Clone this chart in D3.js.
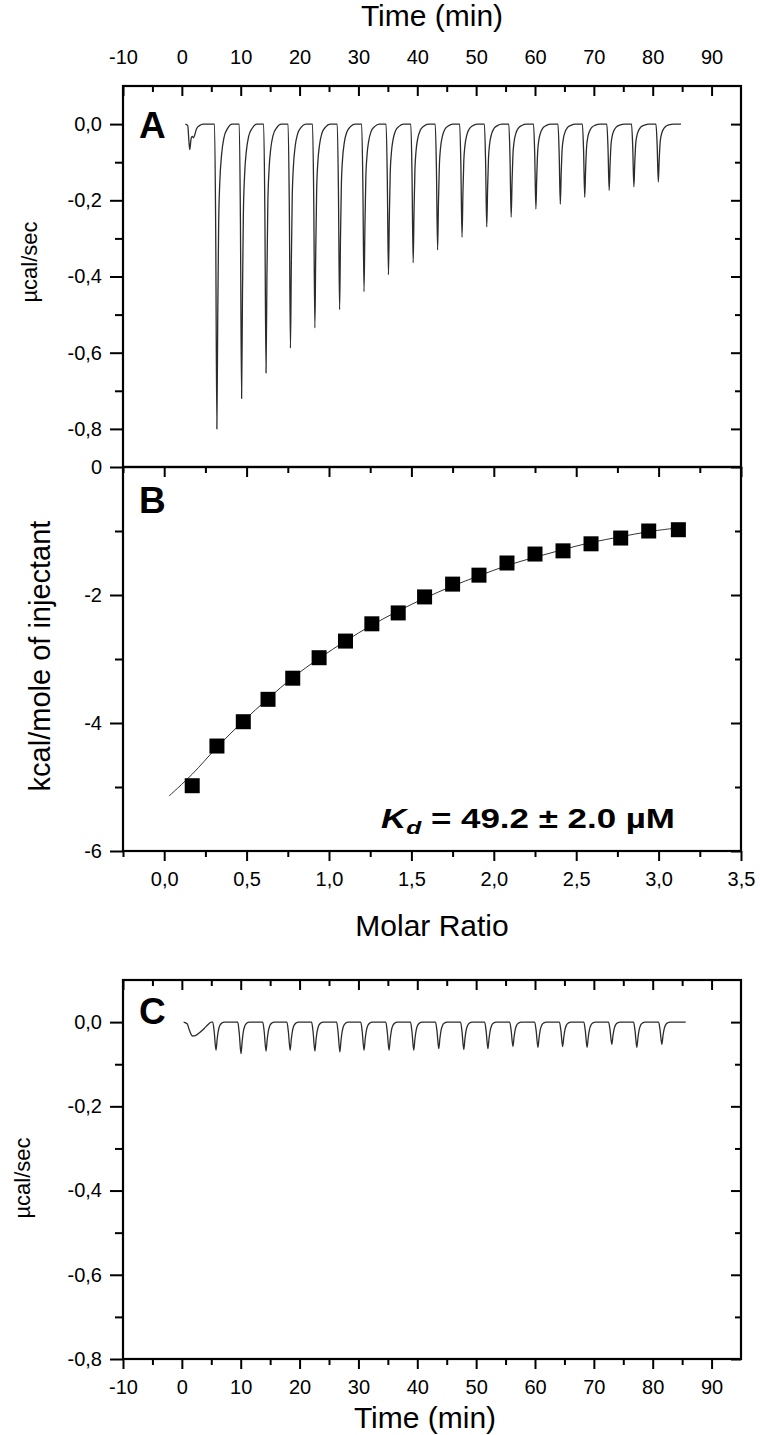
<!DOCTYPE html>
<html>
<head>
<meta charset="utf-8">
<script src="https://cdn.jsdelivr.net/npm/d3@7"></script>
<style>
  html, body { margin: 0; padding: 0; background: #fff; }
  svg { display: block; }
</style>
</head>
<body>
<div id="chart"></div>
<script>
// ---- data ----

// panel A: raw thermogram, peak times (min) and peak heights (µcal/sec)
const peakTimeA = [5.95, 10.15, 14.3, 18.45, 22.6, 26.8, 30.95, 35.1, 39.3, 43.45, 47.6, 51.8, 55.95, 60.15, 64.3, 68.45, 72.6, 76.8, 80.95];
const peakHeightA = [-0.80, -0.72, -0.653, -0.588, -0.535, -0.487, -0.44, -0.395, -0.364, -0.33, -0.297, -0.27, -0.244, -0.223, -0.21, -0.192, -0.174, -0.165, -0.152];
// first (small) injection, drawn as read
const firstInjA = [[0.6, 0], [1.0, -0.004], [1.2, -0.045], [1.35, -0.067], [1.55, -0.04], [1.75, -0.032], [1.95, -0.036], [2.2, -0.028], [2.5, -0.012], [3.0, -0.004], [3.6, 0]];
// peak profile (min from peak, fraction of peak height)
const shapeA = [[-0.4, 0], [-0.2, 0.35], [0, 1], [0.15, 0.62], [0.3, 0.33], [0.5, 0.19], [0.8, 0.1], [1.2, 0.045], [1.8, 0.015], [2.6, 0]];
const endA = 84.8;

// panel B: integrated heats
const molarRatio = [0.17, 0.32, 0.48, 0.63, 0.78, 0.94, 1.10, 1.26, 1.42, 1.58, 1.75, 1.91, 2.08, 2.25, 2.42, 2.59, 2.77, 2.94, 3.12];
const heat = [-4.98, -4.36, -3.98, -3.63, -3.30, -2.98, -2.72, -2.45, -2.28, -2.03, -1.83, -1.69, -1.50, -1.36, -1.31, -1.20, -1.11, -1.00, -0.98];
const fitX = [0.03, 0.17, 0.32, 0.48, 0.63, 0.78, 0.94, 1.10, 1.26, 1.42, 1.58, 1.75, 1.91, 2.08, 2.25, 2.42, 2.59, 2.77, 2.94, 3.12];
const fitY = [-5.14, -4.80, -4.38, -3.97, -3.62, -3.29, -2.99, -2.72, -2.47, -2.25, -2.05, -1.86, -1.70, -1.54, -1.41, -1.29, -1.18, -1.09, -1.01, -0.95];

// panel C: control (blank) titration
const peakTimeC = [5.8, 10.05, 14.3, 18.4, 22.6, 26.85, 30.95, 35.2, 39.4, 43.65, 47.9, 52.0, 56.25, 60.5, 64.7, 68.85, 73.05, 77.3, 81.55];
const peakHeightC = [-0.067, -0.075, -0.069, -0.067, -0.069, -0.071, -0.067, -0.067, -0.067, -0.063, -0.065, -0.063, -0.058, -0.060, -0.058, -0.060, -0.053, -0.060, -0.053];
const firstInjC = [[0.3, 0], [0.9, -0.004], [1.3, -0.02], [1.8, -0.033], [2.3, -0.032], [3.0, -0.025], [3.8, -0.015], [4.5, -0.005], [5.0, 0]];
const shapeC = [[-0.55, 0], [-0.3, 0.35], [0, 1], [0.2, 0.6], [0.4, 0.3], [0.65, 0.12], [1.0, 0.03], [1.4, 0]];
const endC = 85.6;

// tick labels
const timeTicks = [-10, 0, 10, 20, 30, 40, 50, 60, 70, 80, 90];
const timeMinor = [-5, 5, 15, 25, 35, 45, 55, 65, 75, 85];
const powerTicksA = [0, -0.2, -0.4, -0.6, -0.8];
const powerMinorA = [-0.1, -0.3, -0.5, -0.7];
const heatTicks = [0, -2, -4, -6];
const heatMinor = [-1, -3, -5];
const ratioTicks = [0, 0.5, 1.0, 1.5, 2.0, 2.5, 3.0, 3.5];
const ratioMinor = [-0.25, 0.25, 0.75, 1.25, 1.75, 2.25, 2.75, 3.25];
const powerTicksC = [0, -0.2, -0.4, -0.6, -0.8];
const powerMinorC = [-0.1, -0.3, -0.5, -0.7];

// ---- layout ----
const width = 760, height = 1435;
const left = 123, right = 741;
const aTop = 86, aBottom = 467;
const bTop = 467, bBottom = 851;
const cTop = 980, cBottom = 1359;
const font = "'Liberation Sans', Arial, sans-serif";
const tickFont = 20;
const titleFont = 30;

const svg = d3.select("#chart").append("svg")
  .attr("width", width)
  .attr("height", height)
  .attr("viewBox", [0, 0, width, height])
  .style("font-family", font);

// scales
const xTimeA = d3.scaleLinear().domain([-10, 95]).range([left, right]);
const xTimeC = d3.scaleLinear().domain([-10, 95]).range([left, right]);
const yA = d3.scaleLinear().domain([-0.9, 0.1]).range([aBottom, aTop]);
const xB = d3.scaleLinear().domain([-0.25, 3.5]).range([left, right]);
const yB = d3.scaleLinear().domain([-6, 0]).range([bBottom, bTop]);
const yC = d3.scaleLinear().domain([-0.8, 0.1]).range([cBottom, cTop]);

const comma = d => (d < 0 ? "-" : "") + Math.abs(d).toFixed(1).replace(".", ",");
const plain = d => (d < 0 ? "-" : "") + Math.abs(d);

// build a thermogram from injection times, heights and a peak profile
function trace(first, times, heights, shape, end) {
  const pts = first.slice();
  times.forEach((t, i) => {
    shape.forEach(([dt, f]) => pts.push([t + dt, f * heights[i]]));
  });
  pts.push([end, 0]);
  return pts;
}

// axis helper: ticks + optional labels, no domain path
function ax(g, axis) {
  g.call(axis).call(s => s.select(".domain").remove());
  g.selectAll(".tick line").attr("stroke", "#000").attr("stroke-width", 2);
  g.selectAll(".tick text").attr("fill", "#000").style("font-size", tickFont + "px").style("font-family", font);
}

function frame(x0, y0, x1, y1) {
  svg.append("rect")
    .attr("x", x0).attr("y", y0)
    .attr("width", x1 - x0).attr("height", y1 - y0)
    .attr("fill", "none").attr("stroke", "#000").attr("stroke-width", 2.2);
}

function title(x, y, txt, size, rot) {
  return svg.append("text")
    .attr("transform", `translate(${x},${y})` + (rot ? " rotate(-90)" : ""))
    .attr("text-anchor", "middle")
    .style("font-size", size + "px")
    .text(txt);
}

function letter(x, y, txt) {
  svg.append("text").attr("x", x).attr("y", y)
    .style("font-size", "37px").style("font-weight", "bold").text(txt);
}

const line = (x, y) => d3.line().x(d => x(d[0])).y(d => y(d[1])).curve(d3.curveMonotoneX);

// ---------- panel A ----------
// top time axis, ticks pointing in, labels above
svg.append("g").attr("transform", `translate(0,${aTop})`)
  .call(g => ax(g, d3.axisTop(xTimeA).tickValues(timeTicks).tickSize(-10).tickPadding(22).tickFormat(plain)));
svg.append("g").attr("transform", `translate(0,${aTop})`)
  .call(g => ax(g, d3.axisTop(xTimeA).tickValues(timeMinor).tickSize(-6).tickFormat("")));
// left
svg.append("g").attr("transform", `translate(${left},0)`)
  .call(g => ax(g, d3.axisLeft(yA).tickValues(powerTicksA).tickSize(13).tickPadding(8).tickFormat(comma)));
svg.append("g").attr("transform", `translate(${left},0)`)
  .call(g => ax(g, d3.axisLeft(yA).tickValues(powerMinorA).tickSize(8).tickFormat("")));
// right, ticks in
svg.append("g").attr("transform", `translate(${right},0)`)
  .call(g => ax(g, d3.axisRight(yA).tickValues(powerTicksA).tickSize(-10).tickFormat("")));
svg.append("g").attr("transform", `translate(${right},0)`)
  .call(g => ax(g, d3.axisRight(yA).tickValues(powerMinorA).tickSize(-6).tickFormat("")));

svg.append("path")
  .datum(trace(firstInjA, peakTimeA, peakHeightA, shapeA, endA))
  .attr("d", line(xTimeA, yA))
  .attr("fill", "none").attr("stroke", "#2b2b2b").attr("stroke-width", 1.3);

frame(left, aTop, right, aBottom);

title(432, 26, "Time (min)", titleFont);
title(37, 262, "µcal/sec", 22, true);
letter(139, 138, "A");

// ---------- panel B ----------
// top ticks pointing in
svg.append("g").attr("transform", `translate(0,${bTop})`)
  .call(g => ax(g, d3.axisTop(xB).tickValues(ratioTicks).tickSize(-10).tickFormat("")));
svg.append("g").attr("transform", `translate(0,${bTop})`)
  .call(g => ax(g, d3.axisTop(xB).tickValues(ratioMinor).tickSize(-6).tickFormat("")));
// bottom ticks out, labels
svg.append("g").attr("transform", `translate(0,${bBottom})`)
  .call(g => ax(g, d3.axisBottom(xB).tickValues(ratioTicks).tickSize(10).tickPadding(11).tickFormat(comma)));
svg.append("g").attr("transform", `translate(0,${bBottom})`)
  .call(g => ax(g, d3.axisBottom(xB).tickValues(ratioMinor).tickSize(6).tickFormat("")));
// left
svg.append("g").attr("transform", `translate(${left},0)`)
  .call(g => ax(g, d3.axisLeft(yB).tickValues(heatTicks).tickSize(13).tickPadding(8).tickFormat(plain)));
svg.append("g").attr("transform", `translate(${left},0)`)
  .call(g => ax(g, d3.axisLeft(yB).tickValues(heatMinor).tickSize(8).tickFormat("")));
// right, ticks in
svg.append("g").attr("transform", `translate(${right},0)`)
  .call(g => ax(g, d3.axisRight(yB).tickValues(heatTicks).tickSize(-10).tickFormat("")));
svg.append("g").attr("transform", `translate(${right},0)`)
  .call(g => ax(g, d3.axisRight(yB).tickValues(heatMinor).tickSize(-6).tickFormat("")));

svg.append("path")
  .datum(fitX.map((d, i) => [d, fitY[i]]))
  .attr("d", d3.line().x(d => xB(d[0])).y(d => yB(d[1])).curve(d3.curveCatmullRom))
  .attr("fill", "none").attr("stroke", "#333").attr("stroke-width", 1);

const sq = 15;
svg.append("g").selectAll("rect")
  .data(molarRatio.map((d, i) => [d, heat[i]]))
  .join("rect")
  .attr("x", d => xB(d[0]) - sq / 2)
  .attr("y", d => yB(d[1]) - sq / 2)
  .attr("width", sq).attr("height", sq)
  .attr("fill", "#000");

frame(left, bTop, right, bBottom);

title(432, 936, "Molar Ratio", titleFont);
title(50, 656, "kcal/mole of injectant", 29, true);
letter(139, 513, "B");

// Kd annotation, stretched to the width it has in the figure
const kd = svg.append("text")
  .style("font-size", "27px").style("font-weight", "bold");
kd.append("tspan").style("font-style", "italic").text("K");
kd.append("tspan").attr("dy", 6).style("font-size", "19px").style("font-style", "italic").text("d");
kd.append("tspan").attr("dy", -6).text(" = 49.2 ± 2.0 µM");
const kdW = kd.node().getComputedTextLength();
kd.attr("transform", `translate(381,828) scale(${294 / kdW},1)`);

// ---------- panel C ----------
svg.append("g").attr("transform", `translate(0,${cTop})`)
  .call(g => ax(g, d3.axisTop(xTimeC).tickValues(timeTicks).tickSize(-10).tickFormat("")));
svg.append("g").attr("transform", `translate(0,${cTop})`)
  .call(g => ax(g, d3.axisTop(xTimeC).tickValues(timeMinor).tickSize(-6).tickFormat("")));
svg.append("g").attr("transform", `translate(0,${cBottom})`)
  .call(g => ax(g, d3.axisBottom(xTimeC).tickValues(timeTicks).tickSize(10).tickPadding(11).tickFormat(plain)));
svg.append("g").attr("transform", `translate(0,${cBottom})`)
  .call(g => ax(g, d3.axisBottom(xTimeC).tickValues(timeMinor).tickSize(6).tickFormat("")));
svg.append("g").attr("transform", `translate(${left},0)`)
  .call(g => ax(g, d3.axisLeft(yC).tickValues(powerTicksC).tickSize(13).tickPadding(8).tickFormat(comma)));
svg.append("g").attr("transform", `translate(${left},0)`)
  .call(g => ax(g, d3.axisLeft(yC).tickValues(powerMinorC).tickSize(8).tickFormat("")));
svg.append("g").attr("transform", `translate(${right},0)`)
  .call(g => ax(g, d3.axisRight(yC).tickValues(powerTicksC).tickSize(-10).tickFormat("")));
svg.append("g").attr("transform", `translate(${right},0)`)
  .call(g => ax(g, d3.axisRight(yC).tickValues(powerMinorC).tickSize(-6).tickFormat("")));

svg.append("path")
  .datum(trace(firstInjC, peakTimeC, peakHeightC, shapeC, endC))
  .attr("d", line(xTimeC, yC))
  .attr("fill", "none").attr("stroke", "#2b2b2b").attr("stroke-width", 1.3);

frame(left, cTop, right, cBottom);

title(425, 1428, "Time (min)", titleFont);
title(30, 1178, "µcal/sec", 22, true);
letter(139, 1024, "C");
</script>
</body>
</html>
